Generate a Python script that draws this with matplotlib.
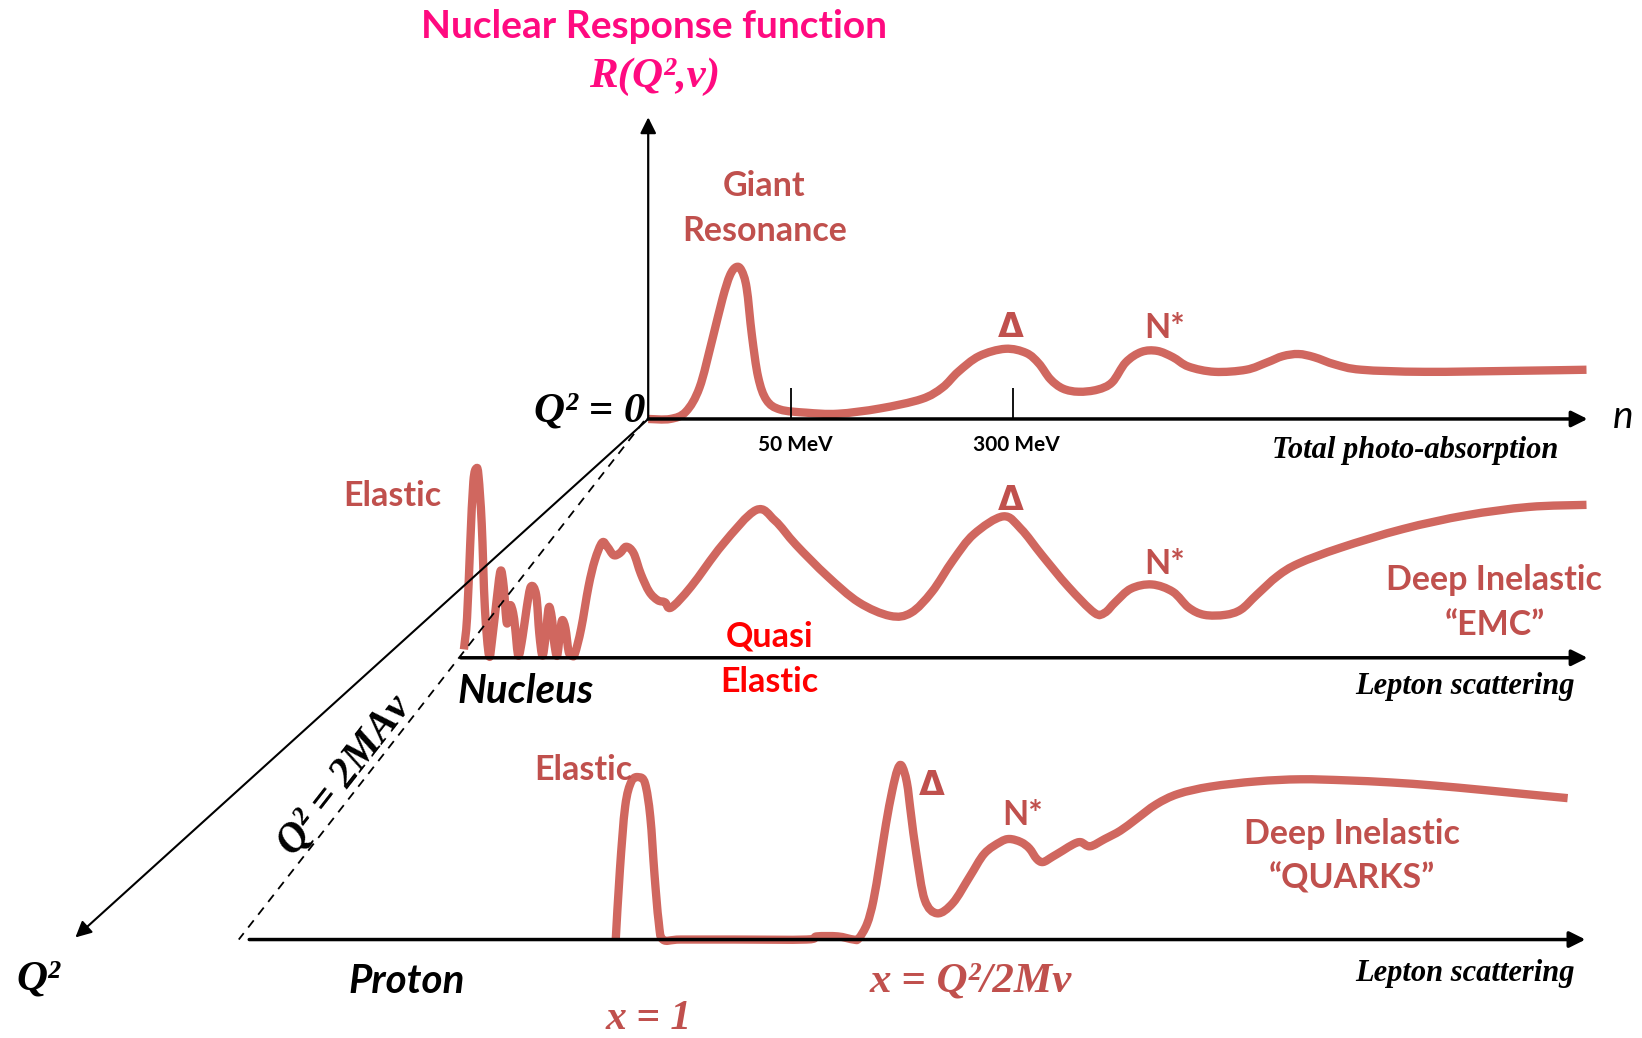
import matplotlib.pyplot as plt
from matplotlib.path import Path
from matplotlib.patches import PathPatch

# schematic response curves (x to the right, y downwards)
top_x = [619, 640, 655, 668, 680, 690, 697, 703, 708, 713, 718, 724, 732, 745, 770, 800, 840, 880,
         900, 915, 935, 960, 980, 992, 1003, 1015, 1030, 1048, 1062, 1075, 1090, 1105, 1120, 1135,
         1160, 1190, 1210, 1225, 1240, 1255, 1275, 1300, 1360, 1450, 1515]
top_y = [400, 400, 393, 370, 325, 285, 263, 255, 258, 275, 320, 360, 382, 391, 394, 395, 390, 381,
         370, 355, 340, 333, 337, 347, 362, 371, 374, 372, 365, 346, 336, 335, 341, 350,
         355, 353, 346, 340, 338, 341, 348, 353, 355, 354, 353]

mid_x = [443, 446, 449, 452, 455, 457, 460, 463, 467, 470, 474, 478, 481, 484, 487, 490, 492, 495,
         499, 503, 507, 512, 515, 518, 521, 524, 527, 529, 532, 535, 537, 540, 543, 546, 549, 555,
         562, 568, 575, 580, 586, 592, 598, 605, 612, 620, 628, 635, 641, 660, 690, 722, 740, 760,
         790, 820, 850, 870, 890, 910, 930, 958, 975, 995, 1020, 1045, 1055, 1065, 1080, 1100,
         1120, 1135, 1150, 1170, 1185, 1200, 1220, 1240, 1280, 1340, 1400, 1460, 1515]
mid_y = [620, 590, 520, 460, 447, 455, 500, 580, 626, 610, 575, 545, 560, 595, 578, 585, 600, 626,
         608, 580, 560, 568, 605, 626, 608, 580, 590, 612, 626, 602, 592, 600, 622, 626, 624, 600,
         560, 535, 518, 522, 530, 528, 522, 528, 548, 565, 573, 575, 580, 560, 520, 487, 497, 520,
         550, 575, 588, 585, 565, 535, 510, 493, 505, 530, 560, 585, 585, 575, 562, 558,
         565, 580, 587, 587, 582, 568, 550, 538, 523, 505, 492, 484, 482]

pro_x = [588, 592, 597, 603, 610, 616, 621, 625, 629, 633, 650, 700, 770, 780, 800, 815,
         820, 828, 834, 840, 846, 852, 857, 861, 866, 870, 875, 883, 895, 910, 926, 940,
         955, 964, 975, 983, 990, 996, 1005, 1015, 1025, 1032, 1041, 1055, 1070, 1085, 1104,
         1125, 1156, 1200, 1242, 1285, 1328, 1370, 1414, 1455, 1497]
pro_y = [897, 830, 770, 746, 742, 748, 780, 835, 880, 897, 897, 897, 897, 894, 894, 897,
         896, 882, 860, 825, 787, 755, 735, 731, 747, 778, 815, 859, 872, 862, 837, 815,
         804, 801, 804, 810, 820, 823, 818, 812, 806, 804, 808, 801, 793, 782, 768,
         758, 751, 746, 744, 745, 747, 750, 754, 758, 762]

tick_x = [755, 967]
tick_labels = ['50 MeV', '300 MeV']

curve_col = '#D0675F'
label_col = '#C0504D'
pink = '#FF0A80'
sans = 'Lato'
serif = 'Liberation Serif'

fig = plt.figure(figsize=(16.42, 10.38), dpi=100)
ax = fig.add_axes([0, 0, 1, 1])
ax.set_xlim(0, 1568)
ax.set_ylim(991, 0)
ax.axis('off')


def arrow(x0, y0, x1, y1, lw=2.2):
	ax.annotate('', xy=(x1, y1), xytext=(x0, y0),
		arrowprops=dict(arrowstyle='-|>', color='k', lw=lw, mutation_scale=24,
			shrinkA=0, shrinkB=0))


def smooth(xs, ys):
	# bezier segments through the read points (catmull-rom tangents)
	pts = list(zip(xs, ys))
	n = len(pts)
	verts = [pts[0]]
	codes = [Path.MOVETO]
	for i in range(n - 1):
		p0 = pts[max(i - 1, 0)]
		p1 = pts[i]
		p2 = pts[i + 1]
		p3 = pts[min(i + 2, n - 1)]
		c1 = (p1[0] + (p2[0] - p0[0]) / 6, p1[1] + (p2[1] - p0[1]) / 6)
		c2 = (p2[0] - (p3[0] - p1[0]) / 6, p2[1] - (p3[1] - p1[1]) / 6)
		verts += [c1, c2, p2]
		codes += [Path.CURVE4] * 3
	return Path(verts, codes)


# axes of the sketch
arrow(619, 400, 619, 112, lw=1.6)
arrow(619, 400, 1516, 400, lw=2.5)
arrow(440, 628, 1516, 628, lw=2.5)
arrow(238, 897, 1514, 897, lw=2.5)
arrow(619, 400, 72, 895, lw=1.5)
ax.plot([615, 228], [402, 897], color='k', lw=1.3, ls=(0, (5, 4)))
ax.vlines(tick_x, 370, 400, color='k', lw=1.3)

# curves
for xs, ys in [(top_x, top_y), (mid_x, mid_y), (pro_x, pro_y)]:
	ax.add_patch(PathPatch(smooth(xs, ys), fill=False, edgecolor=curve_col, lw=6,
		capstyle='butt', joinstyle='round'))

# titles
ax.text(625, 25, 'Nuclear Response function', color=pink, fontsize=28, fontweight='bold',
	family=sans, ha='center', va='center')
ax.text(625, 73, 'R(Q²,ν)', color=pink, fontsize=31, fontweight='bold', style='italic',
	family=serif, ha='center', va='center')

# black labels
ax.text(616, 393, 'Q² = 0', fontsize=31, fontweight='bold', style='italic', family=serif,
	ha='right', va='center')
ax.text(1550, 398, 'n', fontsize=28, style='italic', family=sans, ha='center', va='center')
for x, lab in zip(tick_x, tick_labels):
	ax.text(x + 4, 425, lab, fontsize=15, fontweight='bold', family=sans, ha='center', va='center')
ax.text(1488, 430, 'Total photo-absorption', fontsize=22, fontweight='bold', style='italic',
	family=serif, ha='right', va='center')
ax.text(1504, 655, 'Lepton scattering', fontsize=22, fontweight='bold', style='italic',
	family=serif, ha='right', va='center')
ax.text(1504, 929, 'Lepton scattering', fontsize=22, fontweight='bold', style='italic',
	family=serif, ha='right', va='center')
ax.text(502, 660, 'Nucleus', fontsize=29, fontweight='bold', style='italic', family=sans,
	ha='center', va='center')
ax.text(388, 937, 'Proton', fontsize=29, fontweight='bold', style='italic', family=sans,
	ha='center', va='center')
ax.text(37, 935, 'Q²', fontsize=31, fontweight='bold', style='italic', family=serif,
	ha='center', va='center')
ax.text(329, 740, 'Q² = 2MAν', fontsize=30, fontweight='bold', style='italic', family=serif,
	ha='center', va='center', rotation=52, rotation_mode='anchor')

# red-brown labels
red_labels = [
	(730, 178, 'Giant'), (730, 221, 'Resonance'),
	(375, 474, 'Elastic'), (557, 735, 'Elastic'),
	(1427, 554, 'Deep Inelastic'), (1427, 597, '“EMC”'),
	(1291, 796, 'Deep Inelastic'), (1291, 839, '“QUARKS”'),
	(1112, 313, 'N*'), (1112, 538, 'N*'), (977, 778, 'N*'),
]
for x, y, lab in red_labels:
	ax.text(x, y, lab, color=label_col, fontsize=24.5, fontweight='bold', family=sans,
		ha='center', va='center')
for x, y in [(965, 313), (965, 478), (890, 750)]:
	ax.text(x, y, 'Δ', color=label_col, fontsize=24, fontweight='bold', family='DejaVu Sans',
		ha='center', va='center')

ax.text(735, 608, 'Quasi', color='red', fontsize=24.5, fontweight='bold', family=sans,
	ha='center', va='center')
ax.text(735, 651, 'Elastic', color='red', fontsize=24.5, fontweight='bold', family=sans,
	ha='center', va='center')

ax.text(619, 973, 'x = 1', color=label_col, fontsize=30, fontweight='bold', style='italic',
	family=serif, ha='center', va='center')
ax.text(927, 937, 'x = Q²/2Mν', color=label_col, fontsize=31, fontweight='bold', style='italic',
	family=serif, ha='center', va='center')

fig.savefig('out.png', dpi=100)
